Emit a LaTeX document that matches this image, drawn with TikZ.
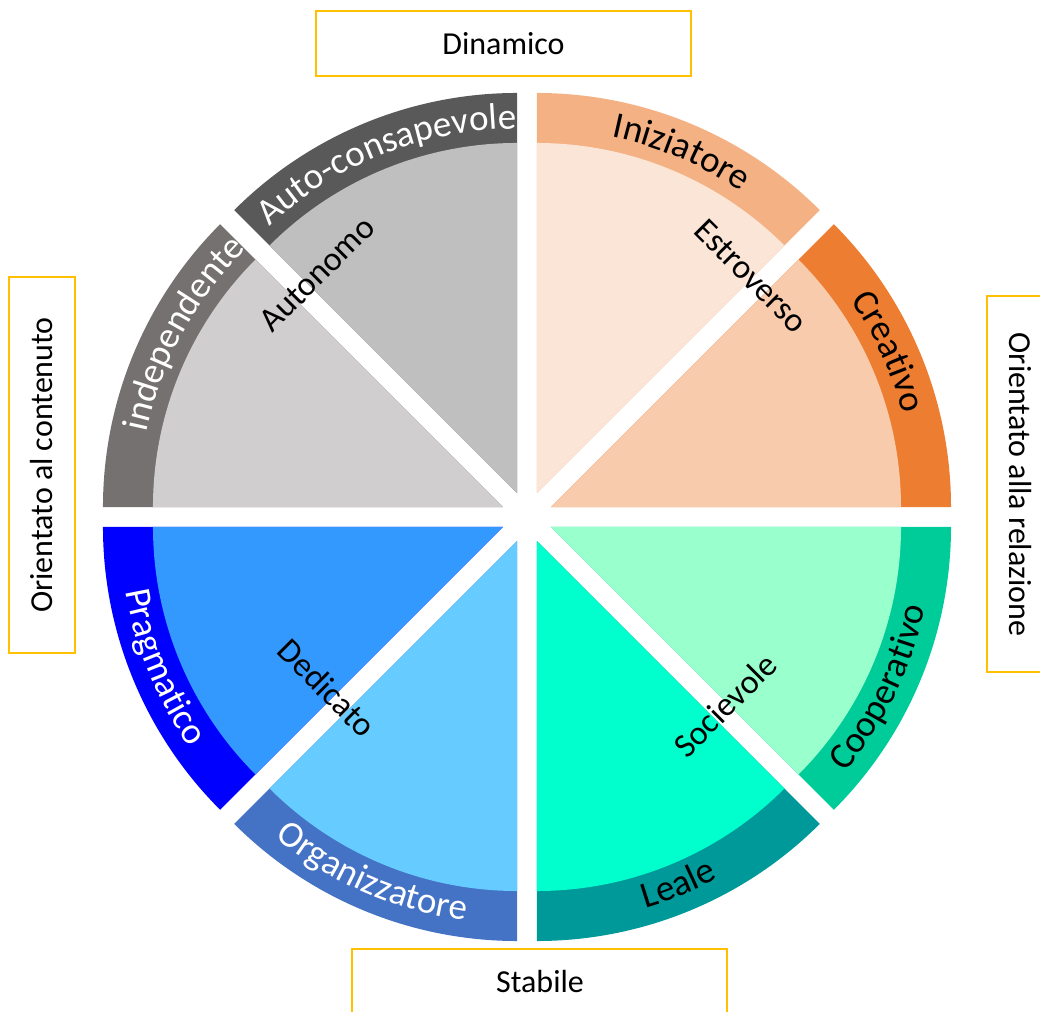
\documentclass[tikz,border=0pt]{standalone}
\usepackage{fontspec}
\setmainfont{Carlito}
\usepackage{tikz}
\usetikzlibrary{decorations.text}
\usepackage{xcolor}
\definecolor{bordoasse}{RGB}{255,192,0}
\definecolor{grigioscuro}{HTML}{595959}
\definecolor{grigiochiaro}{HTML}{BFBFBF}
\definecolor{grigiomedio}{HTML}{767171}
\definecolor{grigiotenue}{HTML}{D0CECE}
\definecolor{pescascuro}{HTML}{F4B183}
\definecolor{pescachiaro}{HTML}{FBE5D6}
\definecolor{arancio}{HTML}{ED7D31}
\definecolor{aranciochiaro}{HTML}{F8CBAD}
\definecolor{verdeacqua}{HTML}{00CC99}
\definecolor{mentachiaro}{HTML}{99FFCC}
\definecolor{petrolio}{HTML}{009999}
\definecolor{acquamarina}{HTML}{00FFCC}
\definecolor{bluacciaio}{HTML}{4472C4}
\definecolor{celeste}{HTML}{66CCFF}
\definecolor{blupieno}{HTML}{0000FF}
\definecolor{azzurro}{HTML}{3399FF}
\newcommand{\fontanello}{\fontsize{18.5}{20}\selectfont}
\newcommand{\fontinterno}{\fontsize{17}{19}\selectfont}
\newcommand{\fontasse}{\fontsize{16}{18}\selectfont}
% one slice: start angle, ring colour, inner colour
\newcommand{\spicchio}[3]{%
  \fill[#2] (0,0) -- (#1:400) arc[start angle=#1, end angle=#1+45, radius=400] -- cycle;
  \fill[#3] (0,0) -- (#1:350) arc[start angle=#1, end angle=#1+45, radius=350] -- cycle;}
\tikzset{
  asse/.style={draw=bordoasse, line width=1pt, fill=white, font=\fontasse,
    inner sep=0pt, outer sep=0pt},
  interno/.style={font=\fontinterno, inner sep=0pt},
  anello/.style n args={2}{decorate, decoration={text along path,
    text align=center, text color=#1, text={|\fontanello|#2}}},
}

\begin{document}
\begin{tikzpicture}[x=0.5pt, y=0.5pt]
  \useasboundingbox (-527,-495) rectangle (513,517);

  % upper half
  \begin{scope}[shift={(112.5:26)}]
    \spicchio{90}{grigioscuro}{grigiochiaro}
    \path[anello={white}{Auto-consapevole}] (156.5:364) arc[start angle=156.5, end angle=66.5, radius=364];
  \end{scope}
  \begin{scope}[shift={(157.5:26)}]
    \spicchio{135}{grigiomedio}{grigiotenue}
    \path[anello={white}{independente}] (196.5:364) arc[start angle=196.5, end angle=106.5, radius=364];
  \end{scope}
  \begin{scope}[shift={(67.5:26)}]
    \spicchio{45}{pescascuro}{pescachiaro}
    \path[anello={black}{Iniziatore}] (112:364) arc[start angle=112, end angle=22, radius=364];
  \end{scope}
  \begin{scope}[shift={(22.5:26)}]
    \spicchio{0}{arancio}{aranciochiaro}
    \path[anello={black}{Creativo}] (69.7:364) arc[start angle=69.7, end angle=-20.3, radius=364];
  \end{scope}

  % lower half
  \begin{scope}[shift={(337.5:26)}]
    \spicchio{315}{verdeacqua}{mentachiaro}
    \path[anello={black}{Cooperativo}] (289:383) arc[start angle=289, end angle=379, radius=383];
  \end{scope}
  \begin{scope}[shift={(292.5:26)}]
    \spicchio{270}{petrolio}{acquamarina}
    \path[anello={black}{Leale}] (247.3:383) arc[start angle=247.3, end angle=337.3, radius=383];
  \end{scope}
  \begin{scope}[shift={(247.5:26)}]
    \spicchio{225}{bluacciaio}{celeste}
    \path[anello={white}{Organizzatore}] (201.5:383) arc[start angle=201.5, end angle=291.5, radius=383];
  \end{scope}
  \begin{scope}[shift={(202.5:26)}]
    \spicchio{180}{blupieno}{azzurro}
    \path[anello={white}{Pragmatico}] (157.4:383) arc[start angle=157.4, end angle=247.4, radius=383];
  \end{scope}

  % labels across the cuts
  \node[interno, rotate=45] (autonomo) at (-210,243) {Autonomo};
  \node[interno, rotate=-45] (estroverso) at (224,241) {Estroverso};
  \node[interno, rotate=-45] (dedicato) at (-200,-171) {Dedicato};
  \node[interno, rotate=45] (socievole) at (198,-188) {Socievole};

  % axes
  \node[asse, minimum width=187.5pt, minimum height=32.5pt] (dinamico) at (-23.5,473.5) {Dinamico};
  \node[asse, minimum width=187.5pt, minimum height=32.5pt] (stabile) at (13,-464.5) {Stabile};
  \node[asse, rotate=90, minimum width=188pt, minimum height=33pt] (contenuto) at (-485,52) {Orientato al contenuto};
  \node[asse, rotate=-90, minimum width=188pt, minimum height=33pt] (relazione) at (493,32.5) {Orientato alla relazione};
\end{tikzpicture}
\end{document}
